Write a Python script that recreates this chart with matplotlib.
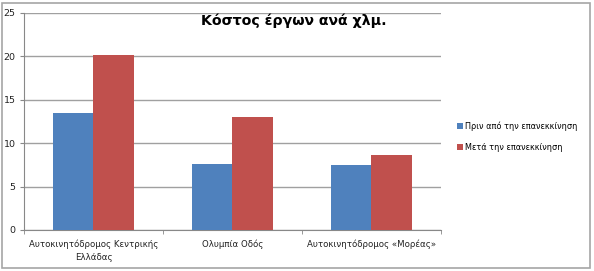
import numpy as np
import matplotlib.pyplot as plt
from matplotlib.patches import Rectangle

categories = ["Αυτοκινητόδρομος Κεντρικής\nΕλλάδας", "Ολυμπία Οδός", "Αυτοκινητόδρομος «Μορέας»"]
before = [13.5, 7.6, 7.5]
after = [20.2, 13.0, 8.6]
series_names = ["Πριν από την επανεκκίνηση", "Μετά την επανεκκίνηση"]

fig = plt.figure(figsize=(5.94, 2.71), dpi=100)
ax = fig.add_axes([0.0404, 0.1513, 0.702, 0.801])

# outer frame of the chart
fig.patches.append(Rectangle((0.004, 0.01), 0.99, 0.98, transform=fig.transFigure,
                             fill=False, edgecolor='#a6a6a6', linewidth=1.2))

x = np.arange(len(categories))
w = 0.288
ax.bar(x - w/2, before, w, color='#4F81BD', label=series_names[0], zorder=3)
ax.bar(x + w/2, after, w, color='#C0504D', label=series_names[1], zorder=3)

ax.set_xlim(-0.5, 2.5)
ax.set_ylim(0, 25)
ax.set_yticks([0, 5, 10, 15, 20, 25])
ax.yaxis.grid(True, color='#a0a0a0', linewidth=1, zorder=0)

ax.set_xticks(x)
ax.set_xticklabels(categories, fontsize=6.2, color='#222222', linespacing=1.6)
ax.tick_params(axis='x', length=0, pad=7)
ax.set_xticks([-0.5, 0.5, 1.5, 2.5], minor=True)
ax.tick_params(axis='x', which='minor', length=3, color='#888888')
ax.tick_params(axis='y', labelsize=6.8, labelcolor='#222222', length=3, color='#888888', pad=3)

for s in ['top', 'right']:
    ax.spines[s].set_visible(False)
for s in ['left', 'bottom']:
    ax.spines[s].set_color('#888888')

fig.text(0.495, 0.925, "Κόστος έργων ανά χλμ.", ha='center', va='center',
         fontsize=10.2, fontweight='bold')

ax.legend(loc='center left', bbox_to_anchor=(1.025, 0.43), frameon=False,
          fontsize=5.9, handlelength=0.7, handleheight=0.7, handletextpad=0.3,
          labelspacing=1.5, borderaxespad=0.3)

fig.savefig('out.png', dpi=100)
